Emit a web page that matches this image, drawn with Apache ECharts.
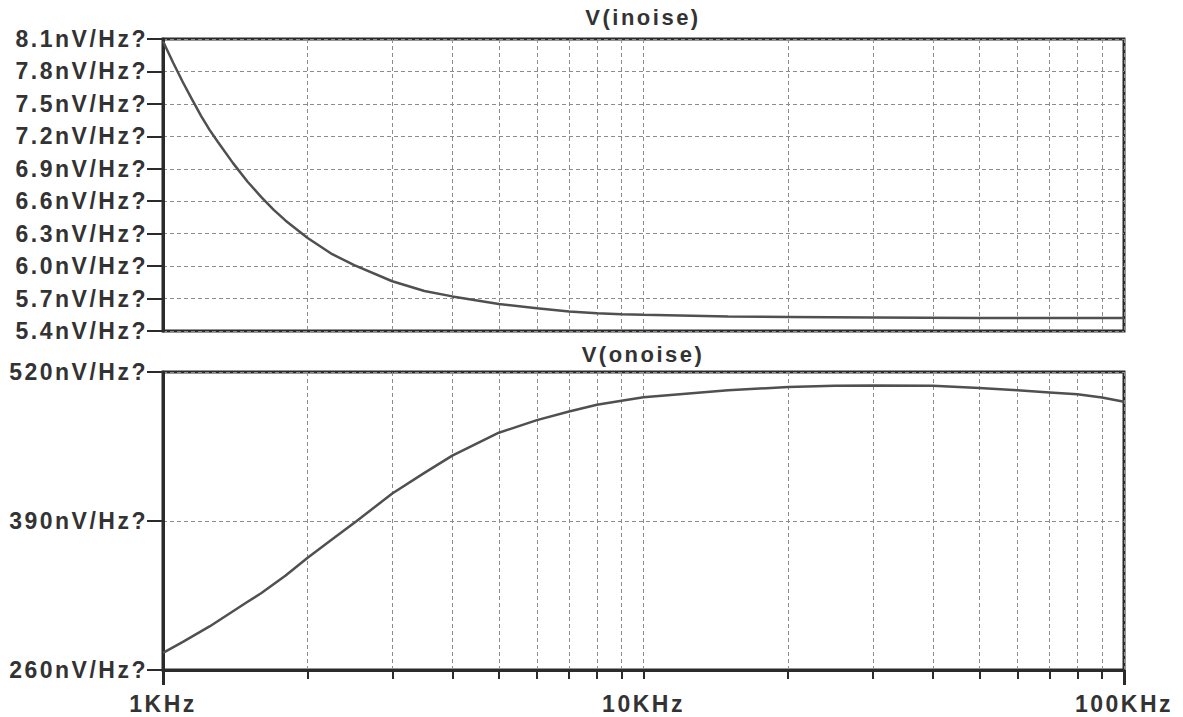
<!DOCTYPE html>
<html><head><meta charset="utf-8">
<script src="https://cdn.jsdelivr.net/npm/echarts@6/dist/echarts.min.js"></script>
<style>
html,body{margin:0;padding:0;background:#fff;}
#chart{width:1183px;height:717px;}
#chart text{letter-spacing:2.5px;}
</style></head><body><div id="chart"></div>
<script>
// ---- data ----
const freqIn = [1000,1050,1100,1150,1200,1250,1300,1400,1500,1600,1700,1800,2000,2250,2500,3000,3500,4000,5000,6000,7000,8000,9000,10000,15000,20000,30000,50000,100000];
const inoise = [8.08,7.88,7.70,7.54,7.39,7.26,7.15,6.95,6.78,6.64,6.52,6.42,6.26,6.11,6.01,5.86,5.77,5.72,5.65,5.61,5.58,5.565,5.555,5.55,5.535,5.53,5.525,5.52,5.52];
const freqOut = [1000,1100,1250,1500,1600,1800,2000,2250,2530,3000,3500,4000,5000,6000,7000,8000,9000,10000,15000,20000,25000,30000,40000,50000,60000,70000,80000,90000,100000];
const onoise = [275,284.5,298,319.5,327,342.5,358,374,390,414,432,447,467,478,485.5,491.5,495,498,504,507,508,508.3,508,506,504,502.2,500.5,497.8,494];
const xGridValues = [1000,2000,3000,4000,5000,6000,7000,8000,9000,10000,20000,30000,40000,50000,60000,70000,80000,90000,100000];
const xLabelValues = [1000,10000,100000];
const xEndValues = [1000,100000];
const titles = ['V(inoise)','V(onoise)'];
const yInRange = [5.4, 8.1, 0.3];
const yOutRange = [260, 520, 130];

const FONT = "'Liberation Sans', Arial, sans-serif";
const TXT = '#333333';
const AX = '#2b2b2b';
const GRIDC = '#8c8c8c';
const labelStyle = {color: TXT, fontFamily: FONT, fontSize: 23, fontWeight: 'bold'};

const chart = echarts.init(document.getElementById('chart'), null, {renderer: 'svg'});

const splitDash = {show: true, lineStyle: {color: GRIDC, type: [4, 3], width: 1}};

function yAxis(gridIndex, r, fmt) {
  return {
    type: 'value', gridIndex, min: r[0], max: r[1], interval: r[2],
    axisLine: {show: true, lineStyle: {color: AX, width: 3}},
    axisTick: {show: true, inside: false, length: 16, lineStyle: {color: AX, width: 2}},
    axisLabel: Object.assign({margin: 15, formatter: fmt}, labelStyle),
    splitLine: splitDash
  };
}

const option = {
  backgroundColor: '#ffffff',
  animation: false,
  grid: [
    {left: 163, right: 59, top: 39, bottom: 386, show: true, borderColor: AX, borderWidth: 3},
    {left: 163, right: 59, top: 372, bottom: 47, show: true, borderColor: AX, borderWidth: 3}
  ],
  graphic: [
    {type: 'text', x: 643, y: 17, style: {text: titles[0], align: 'center', verticalAlign: 'middle', fill: TXT, font: 'bold 22px ' + FONT}},
    {type: 'text', x: 643, y: 354, style: {text: titles[1], align: 'center', verticalAlign: 'middle', fill: TXT, font: 'bold 22px ' + FONT}}
  ],
  xAxis: [
    {type: 'log', logBase: 10, gridIndex: 0, min: 1000, max: 100000,
     axisLine: {show: false}, axisTick: {show: false, customValues: xGridValues},
     axisLabel: {show: false}, splitLine: splitDash},
    {type: 'log', logBase: 10, gridIndex: 1, min: 1000, max: 100000,
     axisLine: {show: true, lineStyle: {color: AX, width: 3}},
     axisTick: {show: true, customValues: xGridValues, length: 9, lineStyle: {color: AX, width: 2}},
     axisLabel: Object.assign({customValues: xLabelValues, margin: 22,
       formatter: v => Math.round(v / 1000) + 'KHz'}, labelStyle),
     splitLine: splitDash},
    {type: 'log', logBase: 10, gridIndex: 1, min: 1000, max: 100000, position: 'bottom',
     axisLine: {show: false},
     axisTick: {show: true, customValues: xEndValues, length: 15, lineStyle: {color: AX, width: 3}},
     axisLabel: {show: false}, splitLine: {show: false}}
  ],
  yAxis: [
    yAxis(0, yInRange, v => v.toFixed(1) + 'nV/Hz?'),
    yAxis(1, yOutRange, v => Math.round(v) + 'nV/Hz?')
  ],
  series: [
    {type: 'line', xAxisIndex: 0, yAxisIndex: 0, showSymbol: false, smooth: false,
     data: freqIn.map((f, i) => [f, inoise[i]]),
     lineStyle: {color: '#505050', width: 2.5}, z: 5},
    {type: 'line', xAxisIndex: 1, yAxisIndex: 1, showSymbol: false, smooth: false,
     data: freqOut.map((f, i) => [f, onoise[i]]),
     lineStyle: {color: '#505050', width: 2.5}, z: 5}
  ]
};
chart.setOption(option);
</script></body></html>
